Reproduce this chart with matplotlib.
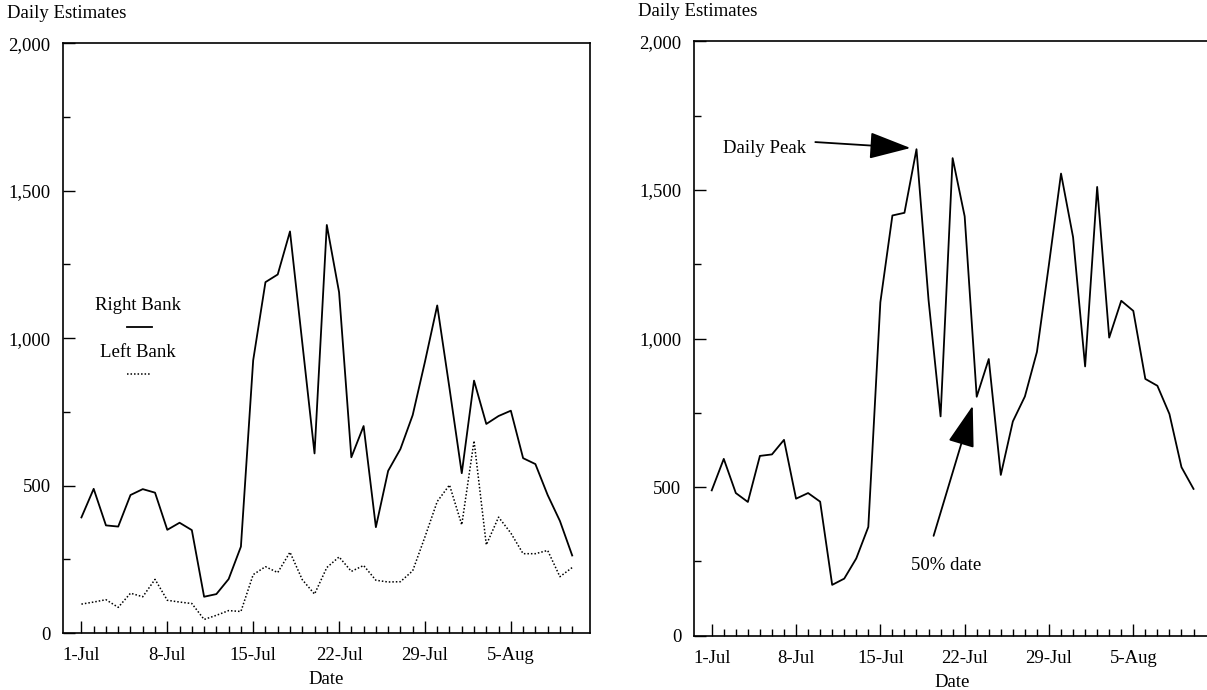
import matplotlib
matplotlib.use("Agg")
import matplotlib.pyplot as plt
import matplotlib.dates as mdates
from matplotlib.ticker import MultipleLocator, StrMethodFormatter
import pandas as pd

# daily dates, 1-Jul to 10-Aug
dates = pd.date_range("1990-07-01", "1990-08-10")
tick_dates = pd.to_datetime(["1990-07-01", "1990-07-08", "1990-07-15",
                             "1990-07-22", "1990-07-29", "1990-08-05"])
tick_labels = ["1-Jul", "8-Jul", "15-Jul", "22-Jul", "29-Jul", "5-Aug"]

right_bank = [392, 489, 365, 361, 468, 488, 476, 350, 374, 349,
              123, 132, 183, 293, 925, 1190, 1216, 1362, 985, 609,
              1384, 1156, 596, 702, 359, 550, 624, 739, 920, 1111,
              830, 542, 856, 709, 736, 754, 593, 573, 468, 380, 263]
left_bank = [98, 105, 113, 87, 135, 123, 182, 111, 105, 100,
             46, 60, 76, 73, 198, 225, 205, 274, 181, 132,
             222, 258, 209, 229, 179, 173, 174, 211, 326, 446,
             502, 367, 652, 299, 393, 339, 269, 269, 280, 191, 222]
total = [489, 595, 480, 450, 605, 610, 659, 461, 480, 451,
         171, 192, 260, 366, 1122, 1414, 1423, 1637, 1130, 738,
         1607, 1411, 804, 931, 541, 721, 805, 955, 1250, 1555,
         1341, 906, 1510, 1003, 1127, 1093, 864, 841, 746, 567, 494]

plt.rcParams["font.family"] = "Liberation Serif"
plt.rcParams["font.size"] = 13.5

fig = plt.figure(figsize=(12.07, 6.90), dpi=100)
ax1 = fig.add_axes([0.0522, 0.0826, 0.4366, 0.8546])
ax2 = fig.add_axes([0.5747, 0.0787, 0.4286, 0.8614])

d0 = mdates.date2num(dates[0])


def day(n):
    return d0 + n


for ax in (ax1, ax2):
    ax.set_ylim(0, 2000)
    ax.set_xlim(day(-1.5), day(41.45))
    ax.yaxis.set_major_locator(MultipleLocator(500))
    ax.yaxis.set_minor_locator(MultipleLocator(250))
    ax.yaxis.set_major_formatter(StrMethodFormatter("{x:,.0f}"))
    ax.set_xticks(mdates.date2num(tick_dates))
    ax.set_xticklabels(tick_labels)
    ax.set_xticks(mdates.date2num(dates), minor=True)
    ax.tick_params(which="both", direction="in", width=1, color="black",
                   top=False, right=False)
    ax.tick_params(which="major", length=8.5)
    ax.tick_params(which="minor", length=4.8)
    ax.tick_params(axis="y", which="major", pad=9)
    ax.tick_params(axis="x", which="major", pad=10)
    for s in ax.spines.values():
        s.set_linewidth(1.2)
    ax.set_xlabel("Date", labelpad=5)

ax1.text(7, 677, "Daily Estimates", transform=None, ha="left", va="center")
ax2.text(638, 678, "Daily Estimates", transform=None, ha="left", va="center")

ax1.plot(mdates.date2num(dates), right_bank, color="black", lw=1.3)
ax1.plot(mdates.date2num(dates), left_bank, color="black", lw=1.1,
         linestyle=(0, (1, 1.3)))

# hand-drawn style legend
ax1.text(0.142, 0.556, "Right Bank", transform=ax1.transAxes,
         ha="center", va="center")
ax1.plot([0.121, 0.169], [0.519, 0.519], transform=ax1.transAxes,
         color="black", lw=1.3)
ax1.text(0.142, 0.4765, "Left Bank", transform=ax1.transAxes,
         ha="center", va="center")
ax1.plot([0.121, 0.165], [0.439, 0.439], transform=ax1.transAxes,
         color="black", lw=1.1, linestyle=(0, (1, 1.3)))

ax2.plot(mdates.date2num(dates), total, color="black", lw=1.3)
ax2.spines["right"].set_visible(False)

arrow = dict(arrowstyle="-|>,head_length=1.3,head_width=0.42",
             mutation_scale=20, color="black", lw=1.3,
             shrinkA=0, shrinkB=0)
ax2.text(day(0.92), 1639, "Daily Peak", ha="left", va="center")
ax2.annotate("", xy=(day(16.5), 1641), xytext=(day(8.6), 1661),
             arrowprops=arrow)
ax2.text(day(19.5), 237, "50% date", ha="center", va="center")
ax2.annotate("", xy=(day(21.67), 774), xytext=(day(18.42), 336),
             arrowprops=arrow)

fig.savefig("out.png", dpi=100)
